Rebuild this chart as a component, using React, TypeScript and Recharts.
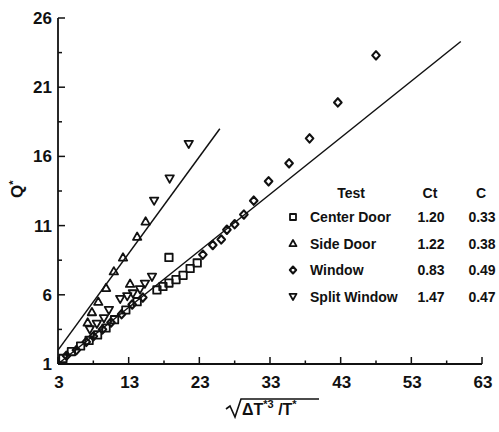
import React from 'react';
import { ScatterChart, Scatter, XAxis, YAxis, ReferenceLine } from 'recharts';

const xTicks = [3, 8, 13, 18, 23, 28, 33, 38, 43, 48, 53, 58, 63];
const xTickLabels = [3, 13, 23, 33, 43, 53, 63];
const yTicks = [1, 3.5, 6, 8.5, 11, 13.5, 16, 18.5, 21, 23.5, 26];
const yTickLabels = [1, 6, 11, 16, 21, 26];

const centerDoor = [
  { x: 3.7, y: 1.4 }, { x: 4.9, y: 1.9 }, { x: 6.2, y: 2.3 }, { x: 7.4, y: 2.7 },
  { x: 8.6, y: 3.1 }, { x: 9.8, y: 3.6 }, { x: 11.0, y: 4.2 }, { x: 12.6, y: 4.9 },
  { x: 14.2, y: 5.5 }, { x: 17.0, y: 6.35 }, { x: 17.85, y: 6.6 }, { x: 18.7, y: 6.85 },
  { x: 19.7, y: 7.1 }, { x: 20.7, y: 7.4 }, { x: 21.7, y: 7.9 }, { x: 22.7, y: 8.3 },
  { x: 18.7, y: 8.7 },
];

const sideDoor = [
  { x: 7.2, y: 4.0 }, { x: 7.8, y: 4.75 }, { x: 8.7, y: 5.5 }, { x: 9.8, y: 6.5 },
  { x: 10.9, y: 7.7 }, { x: 12.2, y: 8.7 }, { x: 14.2, y: 10.2 }, { x: 15.4, y: 11.3 },
  { x: 13.2, y: 6.8 },
];

const windowData = [
  { x: 4.2, y: 1.6 }, { x: 5.6, y: 2.0 }, { x: 7.0, y: 2.6 }, { x: 8.0, y: 3.0 },
  { x: 9.3, y: 3.5 }, { x: 10.5, y: 4.0 }, { x: 12.0, y: 4.6 }, { x: 13.5, y: 5.3 },
  { x: 15.0, y: 5.8 }, { x: 23.5, y: 8.9 }, { x: 24.9, y: 9.6 }, { x: 26.1, y: 10.0 },
  { x: 26.9, y: 10.7 }, { x: 28.0, y: 11.1 }, { x: 29.3, y: 11.8 }, { x: 30.7, y: 12.8 },
  { x: 32.8, y: 14.2 }, { x: 35.7, y: 15.5 }, { x: 38.6, y: 17.3 }, { x: 42.6, y: 19.9 },
  { x: 48.0, y: 23.3 },
];

const splitWindow = [
  { x: 7.5, y: 3.5 }, { x: 8.5, y: 3.9 }, { x: 9.5, y: 4.3 }, { x: 10.2, y: 4.9 },
  { x: 11.8, y: 5.7 }, { x: 12.8, y: 5.9 }, { x: 13.6, y: 6.1 }, { x: 14.6, y: 6.4 },
  { x: 15.3, y: 6.8 }, { x: 16.3, y: 7.3 }, { x: 16.6, y: 12.8 }, { x: 18.8, y: 14.4 },
  { x: 21.5, y: 16.9 },
];

const upperFit = [{ x: 3, y: 2.0 }, { x: 25.9, y: 18.0 }];
const lowerFit = [{ x: 3, y: 1.0 }, { x: 60.0, y: 24.3 }];

const tests = ['Center Door', 'Side Door', 'Window', 'Split Window'];
const ctValues = ['1.20', '1.22', '0.83', '1.47'];
const cValues = ['0.33', '0.38', '0.49', '0.47'];

const INK = '#111';
const FONT = '"Liberation Sans", Arial, sans-serif';

type Kind = 'square' | 'up' | 'diamond' | 'down';

function Marker({ kind, cx, cy, s = 4.2 }: { kind: Kind; cx: number; cy: number; s?: number }) {
  const common = { fill: 'none', stroke: INK, strokeWidth: 1.8, strokeLinejoin: 'round' as const };
  if (kind === 'square') {
    return <rect x={cx - s + 0.5} y={cy - s + 0.5} width={2 * s - 1} height={2 * s - 1} {...common} />;
  }
  if (kind === 'up') {
    return <polygon points={`${cx},${cy - s} ${cx + s},${cy + s * 0.75} ${cx - s},${cy + s * 0.75}`} {...common} />;
  }
  if (kind === 'down') {
    return <polygon points={`${cx},${cy + s} ${cx + s},${cy - s * 0.75} ${cx - s},${cy - s * 0.75}`} {...common} />;
  }
  return <polygon points={`${cx},${cy - s} ${cx + s * 0.9},${cy} ${cx},${cy + s} ${cx - s * 0.9},${cy}`} {...common} strokeWidth={2.1} />;
}

const makeShape = (kind: Kind) => (props: any) => <Marker kind={kind} cx={props.cx} cy={props.cy} />;

const XTick = (props: any) => {
  const { x, y, payload } = props;
  const major = xTickLabels.includes(payload.value);
  return (
    <g>
      <line x1={x} y1={y} x2={x} y2={y - (major ? 7 : 3.5)} stroke={INK} strokeWidth={1.5} />
      {major && (
        <text x={x + 1} y={y + 24} textAnchor="middle" fontFamily={FONT} fontWeight="bold" fontSize={17} fill={INK}>
          {payload.value}
        </text>
      )}
    </g>
  );
};

const YTick = (props: any) => {
  const { x, y, payload } = props;
  const major = yTickLabels.includes(payload.value);
  return (
    <g>
      <line x1={x} y1={y} x2={x + (major ? 7 : 4)} y2={y} stroke={INK} strokeWidth={1.5} />
      {major && (
        <text x={x - 6} y={y + 6} textAnchor="end" fontFamily={FONT} fontWeight="bold" fontSize={17} fill={INK}>
          {payload.value}
        </text>
      )}
    </g>
  );
};

const legendKinds: Kind[] = ['square', 'up', 'diamond', 'down'];
const legendRowsY = [217, 243.5, 270, 296.5];

export default function App() {
  return (
    <div style={{ position: 'absolute', left: 0, top: 0, width: 499, height: 432, background: '#fff' }}>
      <ScatterChart width={499} height={432} margin={{ top: 18, right: 17, bottom: 38, left: 18 }}>
        <XAxis
          type="number"
          dataKey="x"
          domain={[3, 63]}
          ticks={xTicks}
          interval={0}
          tick={<XTick />}
          tickLine={false}
          tickSize={0}
          tickMargin={0}
          height={30}
          axisLine={{ stroke: INK, strokeWidth: 1.8 }}
          allowDataOverflow
        />
        <YAxis
          type="number"
          dataKey="y"
          domain={[1, 26]}
          ticks={yTicks}
          interval={0}
          tick={<YTick />}
          tickLine={false}
          tickSize={0}
          tickMargin={0}
          width={40}
          axisLine={{ stroke: INK, strokeWidth: 1.8 }}
          allowDataOverflow
        />
        <ReferenceLine segment={upperFit} stroke={INK} strokeWidth={1.5} />
        <ReferenceLine segment={lowerFit} stroke={INK} strokeWidth={1.5} />
        <Scatter name="Center Door" data={centerDoor} shape={makeShape('square')} isAnimationActive={false} />
        <Scatter name="Side Door" data={sideDoor} shape={makeShape('up')} isAnimationActive={false} />
        <Scatter name="Window" data={windowData} shape={makeShape('diamond')} isAnimationActive={false} />
        <Scatter name="Split Window" data={splitWindow} shape={makeShape('down')} isAnimationActive={false} />
      </ScatterChart>
      <svg width={499} height={432} style={{ position: 'absolute', left: 0, top: 0, pointerEvents: 'none' }}>
        <g fontFamily={FONT} fontWeight="bold" fill={INK}>
          <text transform="translate(23,198) rotate(-90)" fontSize={17}>
            Q<tspan dy={-6} fontSize={11}>*</tspan>
          </text>
          <polyline
            points="226,409 230,406 235,417 241,399 319,399"
            fill="none"
            stroke={INK}
            strokeWidth={1.6}
          />
          <text x={242} y={415} fontSize={16}>
            ΔT<tspan dy={-7} fontSize={11}>*3</tspan>
            <tspan dy={7} fontSize={16}> /T</tspan>
            <tspan dy={-7} fontSize={11}>*</tspan>
          </text>
          <text x={351} y={198} fontSize={14} textAnchor="middle">Test</text>
          <text x={430} y={198} fontSize={14} textAnchor="middle">Ct</text>
          <text x={481} y={198} fontSize={14} textAnchor="middle">C</text>
          {tests.map((t, i) => (
            <g key={t}>
              <Marker kind={legendKinds[i]} cx={293} cy={legendRowsY[i]} s={3.5} />
              <text x={310} y={legendRowsY[i] + 5} fontSize={14}>{t}</text>
              <text x={431} y={legendRowsY[i] + 5} fontSize={14} textAnchor="middle">{ctValues[i]}</text>
              <text x={482} y={legendRowsY[i] + 5} fontSize={14} textAnchor="middle">{cValues[i]}</text>
            </g>
          ))}
        </g>
      </svg>
    </div>
  );
}
